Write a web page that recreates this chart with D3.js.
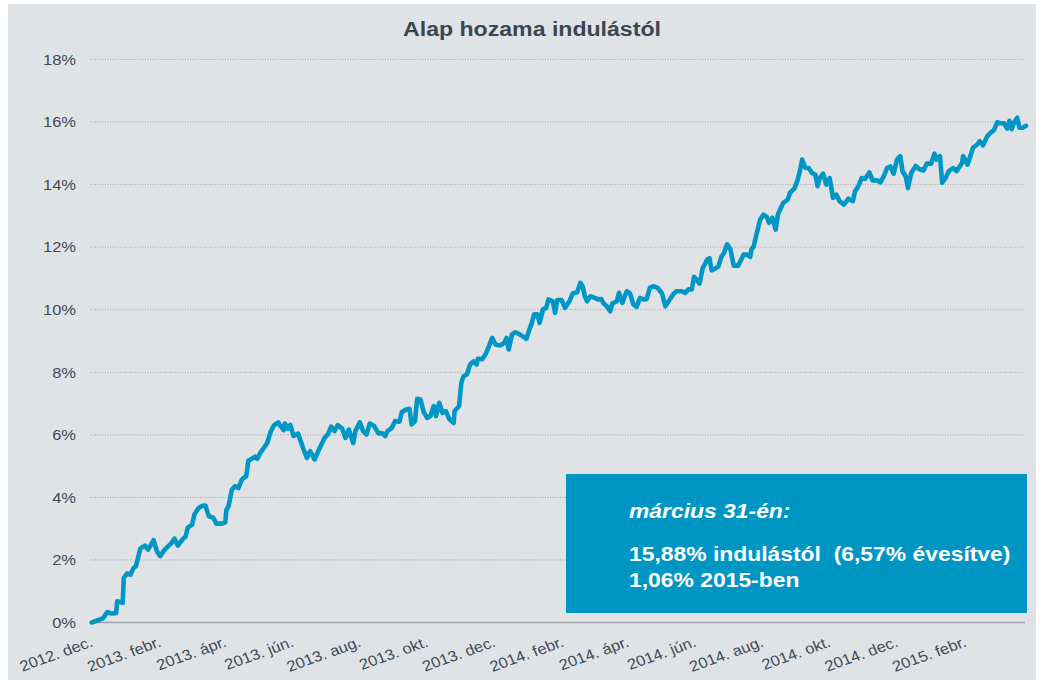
<!DOCTYPE html>
<html>
<head>
<meta charset="utf-8">
<script src="https://cdn.jsdelivr.net/npm/d3@7"></script>
<style>
  html, body { margin: 0; padding: 0; background: #ffffff; }
  svg { display: block; }
  text { font-family: "Liberation Sans", Arial, sans-serif; }
</style>
</head>
<body>
<div id="chart"></div>
<script>
// ---- data ----
const title = "Alap hozama indulástól";
// days since 2012-12-01
const days = [3,13,17,21,25,26,31,32,35,38,41,43,47,51,54,59,62,65,69,75,78,81,85,88,90,94,96,100,104,106,109,113,116,121,124,125,127,130,133,136,139,143,145,148,151,153,156,158,162,165,168,172,174,177,178,181,183,186,190,195,198,201,205,209,214,217,220,223,226,230,233,236,240,242,246,249,252,255,259,263,266,269,271,275,278,282,284,288,291,293,296,298,301,304,307,310,313,315,318,321,324,327,331,332,336,338,340,343,346,349,352,353,357,360,363,366,369,373,377,379,381,384,387,391,397,400,402,404,407,409,412,415,417,421,423,425,429,432,436,439,443,446,448,450,452,455,459,462,465,467,470,473,475,479,481,484,488,491,494,497,500,503,506,509,512,516,520,523,526,530,533,538,541,544,547,549,551,554,557,561,563,565,568,571,574,576,579,582,585,589,591,594,597,600,601,603,606,609,612,615,617,620,623,625,627,630,634,636,640,643,645,647,650,653,656,659,661,663,666,669,672,675,678,681,685,689,693,695,698,701,704,708,711,715,718,721,724,727,730,733,736,738,741,743,746,750,753,757,760,764,767,769,772,774,777,780,784,787,792,793,797,800,802,806,808,811,815,818,821,824,827,830,833,835,837,839,842,844,847,850];
const returns = [0.00,0.13,0.33,0.29,0.30,0.68,0.63,1.43,1.57,1.53,1.75,1.80,2.36,2.46,2.33,2.63,2.28,2.12,2.33,2.53,2.68,2.46,2.65,2.74,3.03,3.13,3.45,3.67,3.74,3.74,3.40,3.35,3.16,3.16,3.20,3.59,3.72,4.25,4.36,4.30,4.57,4.68,5.18,5.23,5.30,5.23,5.44,5.53,5.74,6.08,6.30,6.40,6.28,6.15,6.36,6.19,6.32,5.96,6.04,5.53,5.26,5.48,5.21,5.53,5.90,6.01,6.26,6.12,6.31,6.20,5.90,6.17,5.74,6.12,6.40,6.12,6.01,6.36,6.28,6.04,6.06,5.96,6.12,6.22,6.44,6.42,6.72,6.81,6.83,6.33,6.44,7.15,7.13,6.72,6.54,6.60,6.92,6.60,7.02,6.70,6.76,6.51,6.38,6.76,6.92,7.66,7.87,7.93,8.25,8.35,8.25,8.43,8.42,8.57,8.83,9.10,8.89,8.86,8.94,9.10,8.73,9.21,9.28,9.21,9.07,9.39,9.58,9.85,9.85,9.58,10.01,10.06,10.33,10.27,9.90,10.31,10.31,10.06,10.27,10.52,10.56,10.86,10.75,10.43,10.27,10.43,10.38,10.33,10.34,10.20,10.11,9.95,10.20,10.27,10.54,10.22,10.59,10.52,10.17,10.09,10.38,10.33,10.34,10.70,10.75,10.70,10.52,10.11,10.27,10.49,10.59,10.59,10.54,10.65,10.65,11.05,10.97,10.84,11.34,11.60,11.65,11.26,11.31,11.38,11.71,11.80,12.09,11.93,11.41,11.41,11.55,11.76,11.76,11.69,11.93,12.01,12.46,12.88,13.04,12.97,12.78,12.94,12.56,13.04,13.20,13.42,13.52,13.74,13.87,14.16,14.43,14.80,14.53,14.53,14.37,14.32,13.95,14.21,14.35,14.00,14.21,13.58,13.68,13.47,13.36,13.55,13.47,13.79,13.95,14.21,14.18,14.39,14.13,14.14,14.07,14.26,14.53,14.58,14.35,14.80,14.91,14.43,14.26,13.89,14.37,14.60,14.50,14.45,14.67,14.67,14.99,14.80,14.91,14.06,14.21,14.43,14.53,14.43,14.69,14.91,14.64,14.96,15.18,15.29,15.39,15.26,15.55,15.66,15.74,16.00,15.96,15.96,15.79,16.04,15.77,15.98,16.14,15.82,15.82,15.88];
const tickDates = ["2012-12-01","2013-02-01","2013-04-01","2013-06-01","2013-08-01","2013-10-01","2013-12-01","2014-02-01","2014-04-01","2014-06-01","2014-08-01","2014-10-01","2014-12-01","2015-02-01"];
const tickLabels = ["2012. dec.","2013. febr.","2013. ápr.","2013. jún.","2013. aug.","2013. okt.","2013. dec.","2014. febr.","2014. ápr.","2014. jún.","2014. aug.","2014. okt.","2014. dec.","2015. febr."];
const yTicks = [0,2,4,6,8,10,12,14,16,18];
const boxLines = ["március 31-én:", "15,88% indulástól  (6,57% évesítve)", "1,06% 2015-ben"];

// ---- layout ----
const W = 1054, H = 680;
const SX = 1.1; // horizontal stretch of the reference text
const parseDate = d3.timeParse("%Y-%m-%d");
const startDate = parseDate("2012-12-01");
const endDate = parseDate("2015-03-31");

const svg = d3.select("#chart").append("svg").attr("width", W).attr("height", H);

svg.append("rect").attr("x", 8).attr("y", 4).attr("width", 1028).attr("height", H - 4).attr("fill", "#dfe3e6");

const x = d3.scaleTime().domain([startDate, endDate]).range([88.5, 1026]);
const y = d3.scaleLinear().domain([0, 18]).range([622.5, 59.5]);

// gridlines
svg.append("g").selectAll("line").data(yTicks.filter(d => d > 0)).join("line")
  .attr("x1", 90).attr("x2", 1025)
  .attr("y1", d => y(d)).attr("y2", d => y(d))
  .attr("stroke", "#9ea3a8").attr("stroke-width", 1).attr("stroke-dasharray", "1,1.5");

// baseline
svg.append("line").attr("x1", 89).attr("x2", 1025).attr("y1", y(0)).attr("y2", y(0))
  .attr("stroke", "#9fa3a7").attr("stroke-width", 1.6);

// y axis labels
const yAxis = svg.append("g").attr("transform", "translate(76,0)")
  .call(d3.axisLeft(y).tickValues(yTicks).tickSize(0).tickPadding(0).tickFormat(d => d + "%"));
yAxis.select(".domain").remove();
yAxis.selectAll("text")
  .attr("text-anchor", "end")
  .attr("transform", `scale(${SX},1)`)
  .style("font-size", "15px").attr("fill", "#414b55")
  .style("font-family", '"Liberation Sans", Arial, sans-serif');

// x axis labels
const xAxis = svg.append("g").attr("transform", `translate(0,${y(0)})`)
  .call(d3.axisBottom(x).tickValues(tickDates.map(parseDate)).tickSize(0)
    .tickFormat((d, i) => tickLabels[i]));
xAxis.select(".domain").remove();
xAxis.selectAll("text")
  .attr("text-anchor", "end").attr("x", 0).attr("y", 0).attr("dy", 0)
  .attr("transform", `translate(5,${646 - y(0)}) scale(${SX},1) rotate(-21.5)`)
  .style("font-size", "15px").attr("fill", "#414b55")
  .style("font-family", '"Liberation Sans", Arial, sans-serif');

// line
const pts = days.map((d, i) => ({ date: d3.timeDay.offset(startDate, d), v: returns[i] }));
svg.append("path").datum(pts)
  .attr("fill", "none").attr("stroke", "#0096c6").attr("stroke-width", 4.6)
  .attr("stroke-linejoin", "round").attr("stroke-linecap", "round")
  .attr("d", d3.line().x(d => x(d.date)).y(d => y(d.v)));

// title
svg.append("text").attr("transform", `translate(532,36) scale(${SX},1)`)
  .attr("text-anchor", "middle").style("font-size", "21px").style("font-weight", "bold")
  .attr("fill", "#3c4650").text(title);

// info box
svg.append("rect").attr("x", 566).attr("y", 474).attr("width", 461).attr("height", 139).attr("fill", "#0096c4");
const boxY = [517.5, 561, 587];
boxLines.forEach((t, i) => {
  svg.append("text").attr("transform", `translate(629,${boxY[i]}) scale(${SX},1)`)
    .attr("xml:space", "preserve").style("white-space", "pre")
    .style("font-size", "20.8px").style("font-weight", "bold")
    .style("font-style", i === 0 ? "italic" : "normal")
    .attr("fill", "#ffffff").text(t);
});
</script>
</body>
</html>
